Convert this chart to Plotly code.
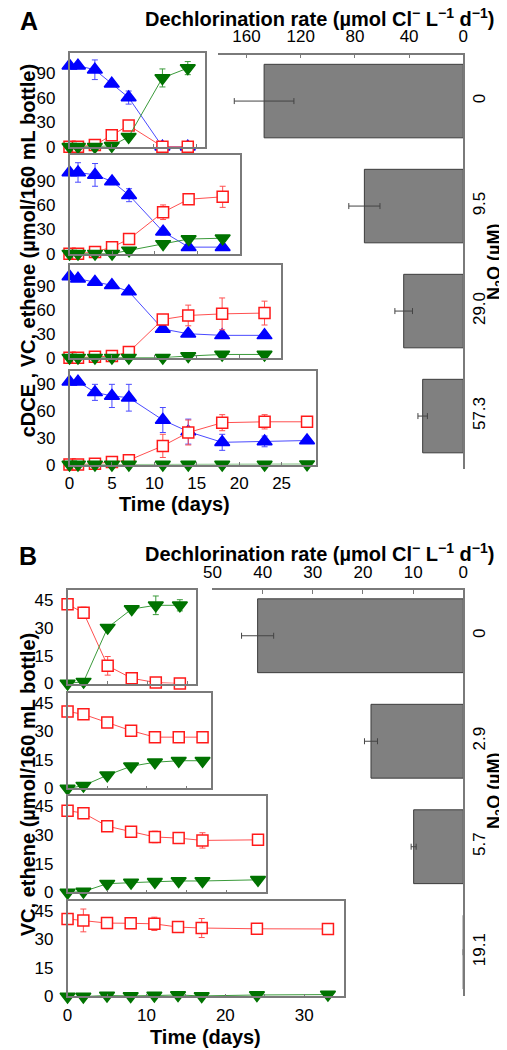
import plotly.graph_objects as go

# ---------------- DATA ----------------
# Panel A: dechlorination rates (bars)
A_n2o_labels = ["0", "9.5", "29.0", "57.3"]
A_rate = [147, 73, 44, 30]
A_rate_err = [22, 11.5, 6.5, 3.5]
A_rate_ticks = [0, 40, 80, 120, 160]

# Panel A time courses (umol/160 mL bottle)
A1_days = [0, 1, 3, 5, 7, 11, 14]
A1_cdce = [99, 99, 94, 77, 60, 0, 0]
A1_cdce_err = [None, None, 12, None, 8, None, None]
A1_vc = [0, 0, 2, 14, 26, 0, 0]
A1_vc_err = [None, None, None, None, 4, None, None]
A1_eth = [0, 0, 0, 1, 12, 84, 96]
A1_eth_err = [None, None, None, None, None, 11, 8]

A2_days = [0, 1, 3, 5, 7, 11, 14, 18]
A2_cdce = [100, 100, 97, 89, 72, 27, 8, 8]
A2_cdce_err = [None, 12, 14, 4, 8, 4, None, None]
A2_vc = [0, 0, 2, 8, 18, 51, 67, 70]
A2_vc_err = [None, None, None, None, None, 9, None, 13]
A2_eth = [0, 0, 0, 0, 4, 12, 18, 19]

A3_days = [0, 1, 3, 5, 7, 11, 14, 18, 23]
A3_cdce = [102, 99, 95, 91, 83, 36, 30, 28, 28]
A3_vc = [0, 0, 1, 2, 7, 48, 53, 55, 56]
A3_vc_err = [None, None, None, None, None, None, 13, 20, 15]
A3_eth = [0, 0, 0, 0, 0, 0, 2, 4, 4]

A4_days = [0, 1, 3, 5, 7, 11, 14, 18, 23, 28]
A4_cdce = [93, 93, 81, 77, 75, 50, 37, 25, 26, 27]
A4_cdce_err = [None, None, 9, 13, 15, 14, 14, 9, 6, None]
A4_vc = [0, 0, 1, 3, 5, 21, 36, 47, 48, 48]
A4_vc_err = [None, None, None, None, None, 13, 14, 9, 8, None]
A4_eth = [0, 0, 0, 0, 0, 0, 0, 0, 0, 0.5]

# Panel B: dechlorination rates (bars)
B_n2o_labels = ["0", "2.9", "5.7", "19.1"]
B_rate = [41, 18.4, 9.9, 0]
B_rate_err = [3.2, 1.3, 0.5, None]
B_rate_ticks = [0, 10, 20, 30, 40, 50]

# Panel B time courses
B1_days = [0, 2, 5, 8, 11, 14]
B1_vc = [42.5, 38, 9.5, 2.8, 0.5, 0]
B1_vc_err = [None, 3, 5, 3, None, None]
B1_eth = [0, 1, 30, 40, 42, 42]
B1_eth_err = [None, None, None, None, 5, 3]

B2_days = [0, 2, 5, 8, 11, 14, 17]
B2_vc = [40.5, 39, 34.7, 30.4, 27, 27, 27]
B2_vc_err = [None, None, None, None, 2, 2, 2]
B2_eth = [0, 1.5, 7, 11.7, 13.8, 14.6, 14.6]

B3_days = [0, 2, 5, 8, 11, 14, 17, 24]
B3_vc = [42.6, 41.3, 34.5, 31.6, 28.9, 28.3, 27.1, 27.4]
B3_vc_err = [None, None, None, None, 3, None, 4, None]
B3_eth = [0, 0.5, 4.6, 5.2, 5.6, 6, 6, 6.6]

B4_days = [0, 2, 5, 8, 11, 14, 17, 24, 33]
B4_vc = [40.8, 40, 38.6, 38.5, 38.2, 36.5, 36, 35.6, 35.5]
B4_vc_err = [None, 6, None, None, 3.5, None, 5, None, None]
B4_eth = [0, 0, 0.5, 0.3, 0.5, 0.8, 0.3, 0.8, 1]

# ---------------- STYLE ----------------
W, H = 507, 1050
FONT = "Liberation Sans, Arial, sans-serif"
GRAY = "#7a7a7a"
BLUE = "#0000ff"
BLUE_L = "#4a4aff"
RED = "#ff1a1a"
RED_L = "#ff5050"
GREEN = "#007300"
GREEN_L = "#3a9a3a"


def fx(p):
    return p / W


def fy(p):
    return 1 - p / H


fig = go.Figure()
layout = dict(
    width=W, height=H, autosize=False,
    margin=dict(l=0, r=0, t=0, b=0),
    paper_bgcolor="white", plot_bgcolor="rgba(0,0,0,0)",
    showlegend=False,
    font=dict(family=FONT, color="black", size=16),
)


def add_series(idx, x, y, err, color, lcolor, symbol, size, fill):
    ax = "" if idx == 1 else str(idx)
    ed = dict(type="data", array=err, color=lcolor, thickness=1, width=3) if err else None
    fig.add_trace(go.Scatter(
        x=x, y=y, mode="lines+markers", xaxis="x" + ax, yaxis="y" + ax,
        line=dict(color=lcolor, width=1),
        marker=dict(symbol=symbol, size=size, color=fill,
                    line=dict(color=color, width=1.5)),
        error_y=ed, cliponaxis=False, hoverinfo="skip"))


def small_axes(idx, xpx, ypx, xr, yr, ytv, xtv=None, xlab=False):
    xa = dict(domain=[fx(xpx[0]), fx(xpx[1])], range=xr, anchor="y" + str(idx),
              showline=True, mirror=True, linecolor=GRAY, linewidth=1.5,
              ticks="inside", ticklen=3, tickcolor=GRAY, tickwidth=1,
              showgrid=False, zeroline=False, showticklabels=xlab,
              tickfont=dict(size=17), ticklabelstandoff=2)
    if xtv is not None:
        xa["tickvals"] = xtv
        xa["minor"] = dict(ticks="inside", dtick=5, ticklen=3, tickcolor=GRAY)
    else:
        xa["dtick"] = 5
        xa["tick0"] = 0
    ya = dict(domain=[fy(ypx[1]), fy(ypx[0])], range=yr, anchor="x" + str(idx),
              showline=True, mirror=True, linecolor=GRAY, linewidth=1.5,
              ticks="", tickvals=ytv, showgrid=False, zeroline=False,
              tickfont=dict(size=17), ticklabelstandoff=9)
    layout["xaxis" + str(idx)] = xa
    layout["yaxis" + str(idx)] = ya


def bar_axes(xn, yn, xpx, xrange, ticks, ypx, yrange, labels):
    layout["xaxis" + xn] = dict(
        domain=[fx(xpx[0]), fx(xpx[1])], range=xrange, side="top", anchor="y" + xn,
        showline=True, linecolor=GRAY, linewidth=1.5, ticks="inside",
        ticklen=4, tickcolor=GRAY, tickvals=ticks, showgrid=False,
        zeroline=False, tickfont=dict(size=17), ticklabelstandoff=4)
    layout["yaxis" + yn] = dict(
        domain=[fy(ypx[1]), fy(ypx[0])], range=yrange, side="right", anchor="x" + xn,
        showline=True, linecolor=GRAY, linewidth=1.5, ticks="",
        tickvals=[0, 1, 2, 3], ticktext=labels, tickangle=-90,
        showgrid=False, zeroline=False, tickfont=dict(size=17),
        ticklabelstandoff=0)


# ---------------- Panel A bars ----------------
fig.add_trace(go.Bar(
    x=A_rate, y=[0, 1, 2, 3], orientation="h", width=0.7, xaxis="x", yaxis="y",
    marker=dict(color="#808080", line=dict(color="#3c3c3c", width=1)),
    error_x=dict(type="data", array=A_rate_err, color="#444444", thickness=1, width=3),
    hoverinfo="skip"))
bar_axes("", "", (207, 459), [180.8, 0], A_rate_ticks, (47, 465), [3.5, -0.443], A_n2o_labels)

# ---------------- Panel A time courses ----------------
A_sets = [
    (2, A1_days, A1_cdce, A1_cdce_err, A1_vc, A1_vc_err, A1_eth, A1_eth_err, (54, 193), (45, 140), [0, 16], [0, 115]),
    (3, A2_days, A2_cdce, A2_cdce_err, A2_vc, A2_vc_err, A2_eth, None, (54, 229), (148, 248), [0, 20], [0, 122]),
    (4, A3_days, A3_cdce, None, A3_vc, A3_vc_err, A3_eth, None, (54, 272), (259, 353), [0, 25], [0, 117]),
    (5, A4_days, A4_cdce, A4_cdce_err, A4_vc, A4_vc_err, A4_eth, None, (54, 307), (366, 461), [0, 29], [0, 105.5]),
]
for (idx, d, c, ce, v, ve, e, ee, xpx, ypx, xr, yr) in A_sets:
    add_series(idx, d, c, ce, BLUE, BLUE_L, "triangle-up", 13, BLUE)
    add_series(idx, d, v, ve, RED, RED_L, "square", 11, "white")
    add_series(idx, d, e, ee, GREEN, GREEN_L, "triangle-down", 13, GREEN)
    small_axes(idx, xpx, ypx, xr, yr, [0, 30, 60, 90], xlab=(idx == 5))

# ---------------- Panel B bars ----------------
fig.add_trace(go.Bar(
    x=B_rate, y=[0, 1, 2, 3], orientation="h", width=0.7, xaxis="x6", yaxis="y6",
    marker=dict(color="#808080", line=dict(color="#3c3c3c", width=1)),
    error_x=dict(type="data", array=B_rate_err, color="#444444", thickness=1, width=3),
    hoverinfo="skip"))
bar_axes("6", "6", (201, 459), [50, 0], B_rate_ticks, (588, 998), [3.42, -0.43], B_n2o_labels)

# ---------------- Panel B time courses ----------------
B_sets = [
    (7, B1_days, B1_vc, B1_vc_err, B1_eth, B1_eth_err, (52, 184), (588, 682), [0, 16]),
    (8, B2_days, B2_vc, B2_vc_err, B2_eth, None, (52, 199), (692, 788), [0, 18]),
    (9, B3_days, B3_vc, B3_vc_err, B3_eth, None, (52, 256), (796, 893), [0, 25]),
    (10, B4_days, B4_vc, B4_vc_err, B4_eth, None, (52, 336), (902, 998), [0, 35]),
]
for (idx, d, v, ve, e, ee, xpx, ypx, xr) in B_sets:
    add_series(idx, d, v, ve, RED, RED_L, "square", 11, "white")
    add_series(idx, d, e, ee, GREEN, GREEN_L, "triangle-down", 13, GREEN)
    small_axes(idx, xpx, ypx, xr, [0, 50], [0, 15, 30, 45],
               xtv=([0, 10, 20, 30] if idx == 10 else None), xlab=(idx == 10))

# ---------------- Text ----------------
rate_title = "<b>Dechlorination rate (µmol Cl<sup>−</sup> L<sup>−1</sup> d<sup>−1</sup>)</b>"
n2o_title = "<b>N<sub>2</sub>O (µM)</b>"
ann = [
    dict(text="<b>A</b>", x=fx(12), y=fy(13), font=dict(size=25)),
    dict(text="<b>B</b>", x=fx(11), y=fy(553), font=dict(size=25)),
    dict(text=rate_title, x=fx(311), y=fy(24), yanchor="bottom", font=dict(size=20)),
    dict(text=rate_title, x=fx(311), y=fy(564), yanchor="bottom", font=dict(size=20)),
    dict(text=n2o_title, x=fx(492), y=fy(256), textangle=-90, font=dict(size=18)),
    dict(text=n2o_title, x=fx(492), y=fy(790), textangle=-90, font=dict(size=18)),
    dict(text="<b>cDCE , VC, ethene (µmol/160 mL bottle)</b>", x=fx(11), y=fy(245),
         textangle=-90, font=dict(size=20)),
    dict(text="<b>VC, ethene (µmol/160 mL bottle)</b>", x=fx(11), y=fy(784),
         textangle=-90, font=dict(size=20)),
    dict(text="<b>Time (days)</b>", x=fx(162), y=fy(501), font=dict(size=20)),
    dict(text="<b>Time (days)</b>", x=fx(194), y=fy(1039), font=dict(size=20)),
]
layout["annotations"] = [dict(dict(xanchor="center", yanchor="middle"), **a,
                              xref="paper", yref="paper", showarrow=False) for a in ann]

fig.update_layout(**layout)
fig.write_html("out.html")
